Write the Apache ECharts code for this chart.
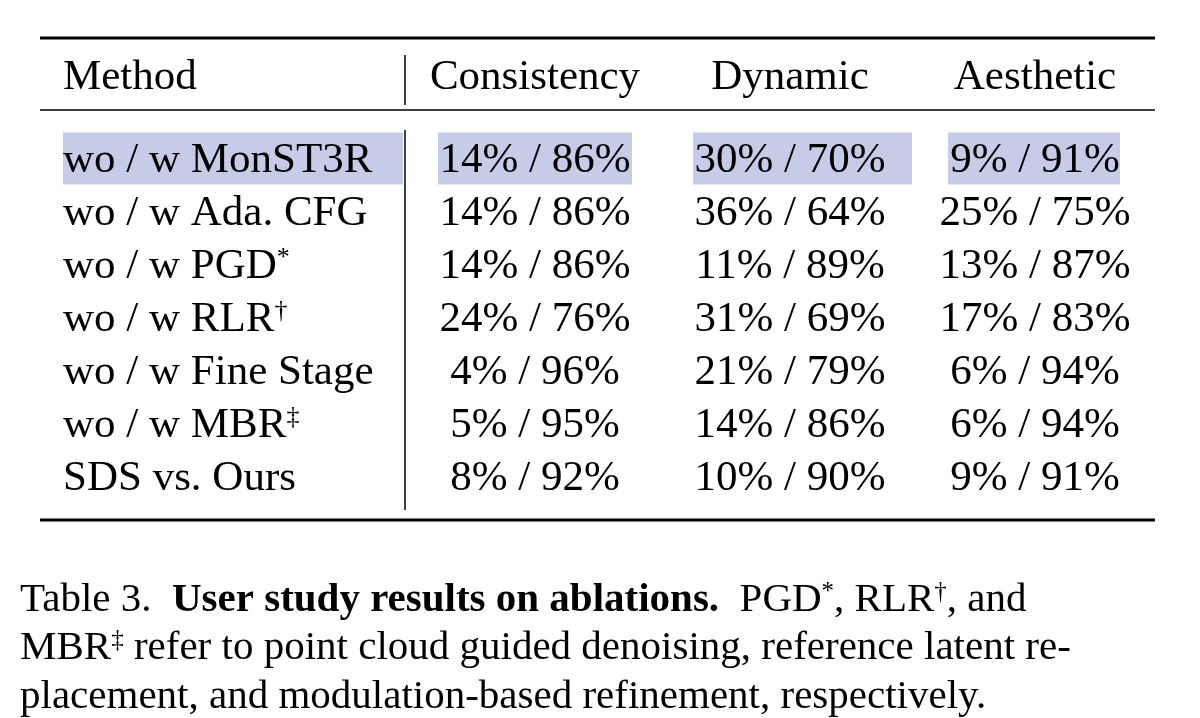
<!DOCTYPE html>
<html><head><meta charset="utf-8">
<script src="https://cdn.jsdelivr.net/npm/echarts@6/dist/echarts.min.js"></script>
<style>html,body{margin:0;background:#fff}#c{width:1200px;height:718px}</style>
</head><body><div id="c"></div>
<script>
// 表格数据
var headers = ['Method', 'Consistency', 'Dynamic', 'Aesthetic'];
var methods = ['wo / w MonST3R', 'wo / w Ada. CFG', 'wo / w PGD{sup|*}', 'wo / w RLR{sup|†}',
    'wo / w Fine Stage', 'wo / w MBR{sup|‡}', 'SDS vs. Ours'];
var consistency = ['14% / 86%', '14% / 86%', '14% / 86%', '24% / 76%', '4% / 96%', '5% / 95%', '8% / 92%'];
var dynamic = ['30% / 70%', '36% / 64%', '11% / 89%', '31% / 69%', '21% / 79%', '14% / 86%', '10% / 90%'];
var aesthetic = ['9% / 91%', '25% / 75%', '13% / 87%', '17% / 83%', '6% / 94%', '6% / 94%', '9% / 91%'];
var highlightRow = 0;

var FONT = '"Liberation Serif", "DejaVu Serif", serif';
var colX = [63, 535, 790, 1035];
var hlBoxes = [[63, 403], [438, 632], [693, 912], [948, 1120]];
var rich = {sup: {fontSize: 26, fontFamily: FONT, color: '#000', verticalAlign: 'top', padding: [0, 0, 16, 0]}};
var capSup = {fontSize: 25, fontFamily: FONT, verticalAlign: 'top', padding: [0, 0, 14, 0]};

var chart = echarts.init(document.getElementById('c'));
var rowIdx = methods.map(function (m, i) { return [0, i]; });

chart.setOption({
    animation: false,
    grid: {left: 0, right: 0, top: 132, height: 371},
    xAxis: {type: 'value', min: 0, max: 1200, show: false},
    yAxis: {type: 'category', data: methods.map(function (m, i) { return 'r' + i; }), inverse: true, show: false},
    series: [{
        type: 'custom',
        data: rowIdx,
        renderItem: function (params, api) {
            var i = api.value(1);
            var y = api.coord([0, i])[1];
            var children = [];
            if (i === highlightRow) {
                hlBoxes.forEach(function (b) {
                    children.push({type: 'rect', shape: {x: b[0], y: y - 26, width: b[1] - b[0], height: 52},
                        style: {fill: '#c6cbe7'}});
                });
            }
            var vals = [methods[i], consistency[i], dynamic[i], aesthetic[i]];
            vals.forEach(function (v, k) {
                children.push({type: 'text', x: colX[k], y: y + 2, style: {
                    text: v, rich: rich, font: '43px ' + FONT, fill: '#000',
                    align: k === 0 ? 'left' : 'center', verticalAlign: 'middle'}});
            });
            return {type: 'group', children: children};
        }
    }],
    graphic: [
        {type: 'line', shape: {x1: 40, y1: 38, x2: 1155, y2: 38}, style: {stroke: '#000', lineWidth: 3}},
        {type: 'line', shape: {x1: 40, y1: 110, x2: 1155, y2: 110}, style: {stroke: '#000', lineWidth: 1.5}},
        {type: 'line', shape: {x1: 40, y1: 520, x2: 1155, y2: 520}, style: {stroke: '#000', lineWidth: 3}},
        {type: 'line', shape: {x1: 405, y1: 55, x2: 405, y2: 105}, style: {stroke: '#000', lineWidth: 1.5}},
        {type: 'line', shape: {x1: 405, y1: 130, x2: 405, y2: 510}, style: {stroke: '#000', lineWidth: 1.5}}
    ].concat(headers.map(function (h, k) {
        return {type: 'text', x: colX[k], y: 78, style: {text: h, font: '43px ' + FONT, fill: '#000',
            align: k === 0 ? 'left' : 'center', verticalAlign: 'middle'}};
    })).concat([
        {type: 'text', x: 20, y: 600, style: {
            text: 'Table 3.  {b|User study results on ablations.}  PGD{sup|*}, RLR{sup|†}, and',
            font: '41px ' + FONT, fill: '#000', verticalAlign: 'middle',
            rich: {b: {font: 'bold 41px ' + FONT}, sup: capSup}}},
        {type: 'text', x: 20, y: 648, style: {
            text: 'MBR{sup|‡} refer to point cloud guided denoising, reference latent re-',
            font: '41px ' + FONT, fill: '#000', verticalAlign: 'middle',
            rich: {sup: capSup}}},
        {type: 'text', x: 20, y: 697, style: {
            text: 'placement, and modulation-based refinement, respectively.',
            font: '41px ' + FONT, fill: '#000', verticalAlign: 'middle'}}
    ])
});
</script></body></html>
